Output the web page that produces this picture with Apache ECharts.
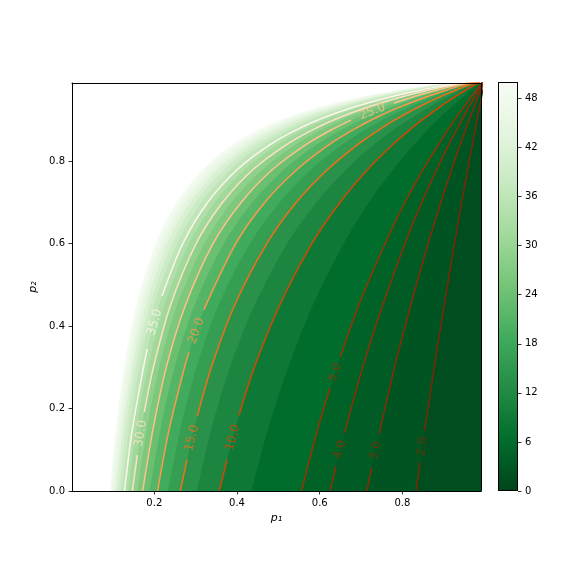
<!DOCTYPE html>
<html>
<head>
<meta charset="utf-8">
<script src="https://cdn.jsdelivr.net/npm/echarts@6/dist/echarts.min.js"></script>
<style>html,body{margin:0;padding:0;background:#fff;}#c{width:576px;height:576px;}</style>
</head>
<body>
<div id="c"></div>
<script>
// ---- data ----
// contour line levels (labelled)
const lineLevels = [2, 3, 4, 5, 10, 15, 20, 25, 30, 35];
// extra fill edges (colour boundaries of the shading, no drawn line)
const fillOnlyLevels = [7.5, 12.5, 17.5, 22.5, 27.5, 32.5, 37.5, 40, 42.5, 45, 47.5, 50];
const colorbarMin = 0;
const colorbarMax = 50;
const colorbarTicks = [0, 6, 12, 18, 24, 30, 36, 42, 48];
const xTicks = [0.2, 0.4, 0.6, 0.8];
const yTicks = [0.0, 0.2, 0.4, 0.6, 0.8];
// contour curves as [p1, p2] points; null = gap where the inline label sits
const c2 = [[0.833,0],[0.843,0.07],null,[0.854,0.147],[0.877,0.3],[0.901,0.45],[0.926,0.6],[0.943,0.7],[0.958,0.78],[0.969,0.84],[0.977,0.88],[0.982,0.91],[0.987,0.935],[0.991,0.955],[0.994,0.97],[0.996,0.98],[0.998,0.99],[1,1]];
const c3 = [[0.714,0],[0.726,0.057],null,[0.744,0.139],[0.781,0.3],[0.820,0.45],[0.862,0.6],[0.893,0.7],[0.919,0.78],[0.940,0.84],[0.954,0.88],[0.965,0.91],[0.975,0.935],[0.982,0.955],[0.988,0.97],[0.992,0.98],[0.996,0.99],[1,1]];
const c4 = [[0.625,0],[0.639,0.06],null,[0.660,0.141],[0.704,0.3],[0.752,0.45],[0.806,0.6],[0.847,0.7],[0.883,0.78],[0.912,0.84],[0.933,0.88],[0.949,0.91],[0.962,0.935],[0.974,0.955],[0.982,0.97],[0.988,0.98],[0.994,0.99],[1,1]];
const c5 = [[0.556,0],[0.595,0.15],[0.625,0.25],null,[0.650,0.326],[0.694,0.45],[0.758,0.6],[0.806,0.7],[0.850,0.78],[0.887,0.84],[0.912,0.88],[0.933,0.91],[0.951,0.935],[0.965,0.955],[0.977,0.97],[0.984,0.98],[0.992,0.99],[1,1]];
const c7_5 = [[0.435,0],[0.475,0.15],[0.524,0.3],[0.583,0.45],[0.658,0.6],[0.719,0.7],[0.778,0.78],[0.828,0.84],[0.865,0.88],[0.895,0.91],[0.922,0.935],[0.945,0.955],[0.962,0.97],[0.975,0.98],[0.987,0.99],[1,1]];
const c10 = [[0.357,0],[0.376,0.076],null,[0.405,0.184],[0.442,0.3],[0.503,0.45],[0.581,0.6],[0.649,0.7],[0.716,0.78],[0.776,0.84],[0.822,0.88],[0.861,0.91],[0.895,0.935],[0.925,0.955],[0.949,0.97],[0.965,0.98],[0.982,0.99],[1,1]];
const c12_5 = [[0.303,0],[0.338,0.15],[0.383,0.3],[0.442,0.45],[0.521,0.6],[0.592,0.7],[0.664,0.78],[0.731,0.84],[0.784,0.88],[0.829,0.91],[0.870,0.935],[0.906,0.955],[0.935,0.97],[0.956,0.98],[0.978,0.99],[1,1]];
const c15 = [[0.263,0],[0.279,0.076],null,[0.304,0.181],[0.338,0.3],[0.394,0.45],[0.472,0.6],[0.543,0.7],[0.619,0.78],[0.691,0.84],[0.749,0.88],[0.799,0.91],[0.846,0.935],[0.888,0.955],[0.923,0.97],[0.947,0.98],[0.973,0.99],[1,1]];
const c17_5 = [[0.233,0],[0.263,0.15],[0.302,0.3],[0.355,0.45],[0.431,0.6],[0.503,0.7],[0.579,0.78],[0.654,0.84],[0.716,0.88],[0.771,0.91],[0.823,0.935],[0.871,0.955],[0.910,0.97],[0.938,0.98],[0.968,0.99],[1,1]];
const c20 = [[0.208,0],[0.236,0.15],[0.273,0.3],[0.284,0.337],null,[0.320,0.44],[0.397,0.6],[0.467,0.7],[0.545,0.78],[0.622,0.84],[0.687,0.88],[0.745,0.91],[0.802,0.935],[0.854,0.955],[0.898,0.97],[0.929,0.98],[0.963,0.99],[1,1]];
const c22_5 = [[0.189,0],[0.215,0.15],[0.249,0.3],[0.297,0.45],[0.368,0.6],[0.437,0.7],[0.514,0.78],[0.592,0.84],[0.660,0.88],[0.721,0.91],[0.782,0.935],[0.838,0.955],[0.886,0.97],[0.921,0.98],[0.959,0.99],[1,1]];
const c25 = [[0.172,0],[0.197,0.15],[0.229,0.3],[0.275,0.45],[0.342,0.6],[0.410,0.7],[0.486,0.78],[0.566,0.84],[0.635,0.88],[0.676,0.9],null,[0.779,0.941],[0.822,0.955],[0.874,0.97],[0.912,0.98],[0.954,0.99],[1,1]];
const c27_5 = [[0.159,0],[0.182,0.15],[0.212,0.3],[0.255,0.45],[0.321,0.6],[0.386,0.7],[0.462,0.78],[0.541,0.84],[0.611,0.88],[0.677,0.91],[0.744,0.935],[0.807,0.955],[0.863,0.97],[0.904,0.98],[0.950,0.99],[1,1]];
const c30 = [[0.147,0],[0.159,0.087],null,[0.176,0.192],[0.198,0.3],[0.239,0.45],[0.301,0.6],[0.365,0.7],[0.439,0.78],[0.519,0.84],[0.590,0.88],[0.657,0.91],[0.726,0.935],[0.793,0.955],[0.852,0.97],[0.896,0.98],[0.945,0.99],[1,1]];
const c32_5 = [[0.137,0],[0.157,0.15],[0.185,0.3],[0.224,0.45],[0.284,0.6],[0.346,0.7],[0.419,0.78],[0.498,0.84],[0.569,0.88],[0.638,0.91],[0.709,0.935],[0.779,0.955],[0.841,0.97],[0.888,0.98],[0.941,0.99],[1,1]];
const c35 = [[0.128,0],[0.147,0.15],[0.174,0.3],[0.183,0.345],null,[0.219,0.474],[0.269,0.6],[0.329,0.7],[0.401,0.78],[0.479,0.84],[0.551,0.88],[0.620,0.91],[0.693,0.935],[0.766,0.955],[0.831,0.97],[0.880,0.98],[0.936,0.99],[1,1]];
const c37_5 = [[0.120,0],[0.139,0.15],[0.164,0.3],[0.199,0.45],[0.255,0.6],[0.313,0.7],[0.384,0.78],[0.461,0.84],[0.533,0.88],[0.603,0.91],[0.678,0.935],[0.753,0.955],[0.820,0.97],[0.873,0.98],[0.932,0.99],[1,1]];
const c40 = [[0.114,0],[0.131,0.15],[0.155,0.3],[0.189,0.45],[0.243,0.6],[0.299,0.7],[0.368,0.78],[0.445,0.84],[0.517,0.88],[0.588,0.91],[0.664,0.935],[0.740,0.955],[0.810,0.97],[0.865,0.98],[0.928,0.99],[1,1]];
const c42_5 = [[0.108,0],[0.124,0.15],[0.147,0.3],[0.180,0.45],[0.231,0.6],[0.287,0.7],[0.354,0.78],[0.430,0.84],[0.501,0.88],[0.572,0.91],[0.650,0.935],[0.728,0.955],[0.801,0.97],[0.858,0.98],[0.923,0.99],[1,1]];
const c45 = [[0.102,0],[0.118,0.15],[0.140,0.3],[0.171,0.45],[0.221,0.6],[0.275,0.7],[0.341,0.78],[0.415,0.84],[0.486,0.88],[0.558,0.91],[0.636,0.935],[0.716,0.955],[0.791,0.97],[0.850,0.98],[0.919,0.99],[1,1]];
const c47_5 = [[0.097,0],[0.112,0.15],[0.133,0.3],[0.164,0.45],[0.212,0.6],[0.264,0.7],[0.328,0.78],[0.402,0.84],[0.473,0.88],[0.544,0.91],[0.623,0.935],[0.705,0.955],[0.782,0.97],[0.843,0.98],[0.915,0.99],[1,1]];
const c50 = [[0.093,0],[0.107,0.15],[0.127,0.3],[0.156,0.45],[0.203,0.6],[0.254,0.7],[0.317,0.78],[0.389,0.84],[0.460,0.88],[0.531,0.91],[0.611,0.935],[0.694,0.955],[0.773,0.97],[0.836,0.98],[0.911,0.99],[1,1]];

// ---- styles ----
const GREENS = ['#f7fcf5','#e5f5e0','#c7e9c0','#a1d99b','#74c476','#41ab5d','#238b45','#006d2c','#00441b'];
const ORANGES = ['#fff5eb','#fee6ce','#fdd0a2','#fdae6b','#fd8d3c','#f16913','#d94801','#a63603','#7f2704'];
function hex2rgb(h){return [parseInt(h.slice(1,3),16),parseInt(h.slice(3,5),16),parseInt(h.slice(5,7),16)];}
function cmap(stops, t){
  t = Math.max(0, Math.min(1, t));
  const n = stops.length - 1, pos = t * n;
  const i = Math.min(Math.floor(pos), n - 1), f = pos - i;
  const a = hex2rgb(stops[i]), b = hex2rgb(stops[i+1]);
  return 'rgb(' + a.map((v,k)=>Math.round(v + (b[k]-v)*f)).join(',') + ')';
}
const greensR = v => cmap(GREENS, 1 - (v - colorbarMin) / (colorbarMax - colorbarMin));
const lo = lineLevels[0], hi = lineLevels[lineLevels.length-1];
const orangesR = L => cmap(ORANGES, 1 - (L - lo) / (hi - lo));

const curveByLevel = {
  2:c2, 3:c3, 4:c4, 5:c5, 7.5:c7_5, 10:c10, 12.5:c12_5, 15:c15, 17.5:c17_5, 20:c20,
  22.5:c22_5, 25:c25, 27.5:c27_5, 30:c30, 32.5:c32_5, 35:c35, 37.5:c37_5, 40:c40,
  42.5:c42_5, 45:c45, 47.5:c47_5, 50:c50
};
const allLevels = lineLevels.concat(fillOnlyLevels).sort((a,b)=>a-b);
const FONT = 'DejaVu Sans';
const SMOOTH = 0.3;

const chart = echarts.init(document.getElementById('c'), null, {renderer:'canvas'});

const series = [];
// filled bands: draw from the highest edge down, each area = region with value below that edge
for (let i = allLevels.length - 1; i >= 0; i--) {
  const L = allLevels[i];
  const prev = i > 0 ? allLevels[i-1] : L - 1;
  series.push({
    type:'line', xAxisIndex:0, yAxisIndex:0, z:1,
    data: curveByLevel[L].filter(p => p !== null),
    smooth: SMOOTH, symbol:'none', silent:true,
    lineStyle:{width:0, opacity:0},
    areaStyle:{color: greensR((L + prev) / 2), opacity:1, origin:'start'}
  });
}
const firstLineIdx = series.length;
lineLevels.forEach(L => {
  series.push({
    type:'line', xAxisIndex:0, yAxisIndex:0, z:3,
    data: curveByLevel[L], connectNulls:false,
    smooth: SMOOTH, symbol:'none', silent:true,
    lineStyle:{width:1.5, color: orangesR(L)}
  });
});
// colorbar
const cbStops = GREENS.map((c, i) => ({offset: i/(GREENS.length-1), color: c}));
series.push({
  type:'bar', xAxisIndex:2, yAxisIndex:2, data:[colorbarMax], barWidth:'100%', silent:true,
  itemStyle:{color: new echarts.graphic.LinearGradient(0,0,0,1,cbStops), borderColor:'#000', borderWidth:1}
});

const tickStyle = {color:'#000', width:0.8};
const option = {
  animation:false,
  backgroundColor:'#fff',
  grid:[
    {left:72, top:83, width:409, height:408},
    {left:498, top:82, width:20, height:409}
  ],
  xAxis:[
    {gridIndex:0, type:'value', min:0.001, max:0.99, position:'bottom', z:10,
     axisLine:{show:true, onZero:false, lineStyle:{color:'#000', width:1}},
     axisTick:{show:true, length:3.5, customValues:xTicks, lineStyle:tickStyle},
     axisLabel:{customValues:xTicks, formatter:v=>v.toFixed(1), color:'#000', fontSize:10, fontFamily:FONT, margin:7},
     splitLine:{show:false},
     name:'p₁', nameLocation:'middle', nameGap:20,
     nameTextStyle:{color:'#000', fontSize:11, fontStyle:'italic', fontFamily:FONT}},
    {gridIndex:0, type:'value', min:0.001, max:0.99, position:'top', z:10,
     axisLine:{show:true, onZero:false, lineStyle:{color:'#000', width:1}},
     axisTick:{show:false}, axisLabel:{show:false}, splitLine:{show:false}},
    {gridIndex:1, type:'category', data:['cb'], show:false}
  ],
  yAxis:[
    {gridIndex:0, type:'value', min:0, max:0.99, position:'left', z:10,
     axisLine:{show:true, onZero:false, lineStyle:{color:'#000', width:1}},
     axisTick:{show:true, length:3.5, customValues:yTicks, lineStyle:tickStyle},
     axisLabel:{customValues:yTicks, formatter:v=>v.toFixed(1), color:'#000', fontSize:10, fontFamily:FONT, margin:7},
     splitLine:{show:false},
     name:'p₂', nameLocation:'middle', nameGap:25,
     nameTextStyle:{color:'#000', fontSize:11, fontStyle:'italic', fontFamily:FONT}},
    {gridIndex:0, type:'value', min:0, max:0.99, position:'right', z:10,
     axisLine:{show:true, onZero:false, lineStyle:{color:'#000', width:1}},
     axisTick:{show:false}, axisLabel:{show:false}, splitLine:{show:false}},
    {gridIndex:1, type:'value', min:colorbarMin, max:colorbarMax, position:'right', z:10,
     axisLine:{show:false},
     axisTick:{show:true, length:3.5, customValues:colorbarTicks, lineStyle:tickStyle},
     axisLabel:{customValues:colorbarTicks, color:'#000', fontSize:10, fontFamily:FONT, margin:7},
     splitLine:{show:false}}
  ],
  series: series
};
chart.setOption(option);

// inline contour labels, centred in each line gap and rotated along it
const labelData = lineLevels.map(L => {
  const pts = curveByLevel[L];
  const g = pts.indexOf(null);
  const a = pts[g-1], b = pts[g+1];
  const pa = chart.convertToPixel({seriesIndex:firstLineIdx}, a);
  const pb = chart.convertToPixel({seriesIndex:firstLineIdx}, b);
  let ang = Math.atan2(-(pb[1]-pa[1]), pb[0]-pa[0]) * 180 / Math.PI;
  if (ang > 90) ang -= 180; if (ang < -90) ang += 180;
  return {
    value:[(a[0]+b[0])/2, (a[1]+b[1])/2],
    label:{show:true, formatter:L.toFixed(1), rotate:ang, color:orangesR(L)}
  };
});
option.series.push({
  type:'scatter', xAxisIndex:0, yAxisIndex:0, z:5, silent:true,
  symbolSize:1, itemStyle:{color:'rgba(0,0,0,0)'},
  label:{show:true, position:'inside', align:'center', verticalAlign:'middle', fontSize:12, fontFamily:FONT},
  data: labelData
});
chart.setOption(option);
</script>
</body>
</html>
